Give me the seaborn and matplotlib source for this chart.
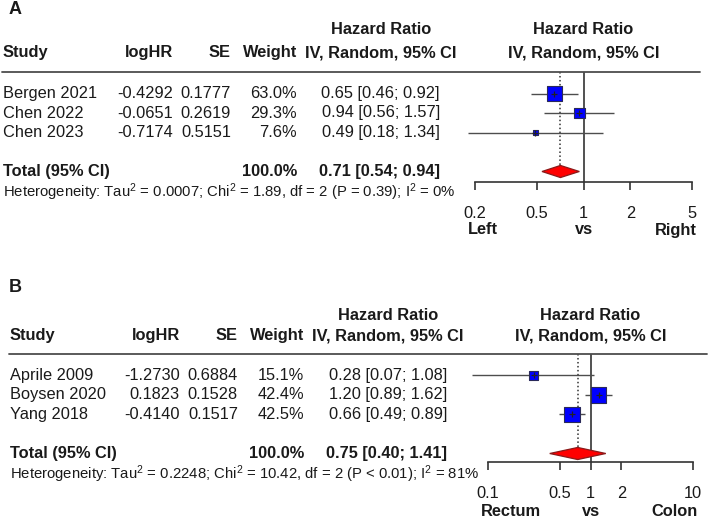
import matplotlib
matplotlib.use("Agg")
import matplotlib.pyplot as plt
import matplotlib.transforms as mtransforms
from matplotlib.lines import Line2D
from matplotlib.ticker import FixedLocator, FixedFormatter, NullLocator
import pandas as pd
import seaborn as sns

# ---- panel A data ----
studies_a = ["Bergen 2021", "Chen 2022", "Chen 2023"]
loghr_a = [-0.4292, -0.0651, -0.7174]
se_a = [0.1777, 0.2619, 0.5151]
weight_a = [63.0, 29.3, 7.6]
hr_a = [0.65, 0.94, 0.49]
lower_a = [0.46, 0.56, 0.18]
upper_a = [0.92, 1.57, 1.34]
total_a = [0.71, 0.54, 0.94]  # estimate, lower, upper
total_weight_a = 100.0
het_a = r"Heterogeneity: Tau$^{\mathrm{2}}$ = 0.0007; Chi$^{\mathrm{2}}$ = 1.89, df = 2 (P = 0.39); I$^{\mathrm{2}}$ = 0%"
ticks_a = [0.2, 0.5, 1, 2, 5]
ticklabels_a = ["0.2", "0.5", "1", "2", "5"]
sides_a = ["Left", "vs", "Right"]

# ---- panel B data ----
studies_b = ["Aprile 2009", "Boysen 2020", "Yang 2018"]
loghr_b = [-1.2730, 0.1823, -0.4140]
se_b = [0.6884, 0.1528, 0.1517]
weight_b = [15.1, 42.4, 42.5]
hr_b = [0.28, 1.20, 0.66]
lower_b = [0.07, 0.89, 0.49]
upper_b = [1.08, 1.62, 0.89]
total_b = [0.75, 0.40, 1.41]
total_weight_b = 100.0
het_b = r"Heterogeneity: Tau$^{\mathrm{2}}$ = 0.2248; Chi$^{\mathrm{2}}$ = 10.42, df = 2 (P < 0.01); I$^{\mathrm{2}}$ = 81%"
ticks_b = [0.1, 0.5, 1, 2, 10]
ticklabels_b = ["0.1", "0.5", "1", "2", "10"]
sides_b = ["Rectum", "vs", "Colon"]

sns.set_style("white")
plt.rcParams['font.family'] = ['Liberation Sans', 'DejaVu Sans']
plt.rcParams['mathtext.fontset'] = 'custom'
plt.rcParams['mathtext.rm'] = 'Liberation Sans'
plt.rcParams['mathtext.it'] = 'Liberation Sans:italic'
plt.rcParams['mathtext.bf'] = 'Liberation Sans:bold'

W, H = 710, 520
fig = plt.figure(figsize=(W / 100, H / 100), dpi=100)
fig.patch.set_facecolor("white")

FS = 11.8
TXT = "#1a1a1a"


def panel(letter, top_px, line_px, axis_px, xlim, off, head_rows,
          studies, loghr, se, weight, hr, lower, upper, total, total_weight, het,
          ticks, ticklabels, sides):
    # forest axes: rows 0..2 for studies, row 4 for total
    row0_px = line_px + 21.5
    step = 19.5
    ax = fig.add_axes([455 / W, 1 - axis_px / H, 250 / W, (axis_px - line_px) / H])
    ax.set_xscale("log")
    ax.set_xlim(*xlim)
    ax.set_ylim(4 + (axis_px - (row0_px + 4 * step)) / step, -(row0_px - line_px) / step)
    ax.patch.set_alpha(0)

    rows = list(range(len(studies)))
    df = pd.DataFrame({"hr": hr, "row": rows, "weight": weight})

    ax.hlines(rows, lower, upper, color="#4d4d4d", lw=1.0, zorder=2)
    ax.axvline(1, color="#333333", lw=1.2, zorder=1)
    dh = 0.31
    ax.vlines(total[0], ax.get_ylim()[1], 4, color="#333333", lw=1.1,
              linestyles=(0, (1, 1.6)), zorder=1)
    sns.scatterplot(data=df, x="hr", y="row", size="weight", sizes=(0, 118),
                    size_norm=(0, max(weight)), marker="s", color="#0000ff",
                    edgecolor="#2a2a5a", linewidth=0.8, legend=False, ax=ax, zorder=3)
    ax.plot(hr, rows, "+", ms=5, mew=0.9, color="#222222", zorder=4)
    ax.fill([total[1], total[0], total[2], total[0]], [4, 4 - dh, 4, 4 + dh],
            facecolor="#ff0000", edgecolor="#8b1a1a", lw=0.9, zorder=3)

    for s in ["top", "right", "left"]:
        ax.spines[s].set_visible(False)
    ax.spines["bottom"].set_bounds(ticks[0], ticks[-1])
    ax.spines["bottom"].set_color("#333333")
    ax.spines["bottom"].set_linewidth(1.2)
    ax.xaxis.set_major_locator(FixedLocator(ticks))
    ax.xaxis.set_major_formatter(FixedFormatter(ticklabels))
    ax.xaxis.set_minor_locator(NullLocator())
    ax.tick_params(axis="x", direction="out", length=6, width=1.2, color="#333333",
                   pad=11, labelsize=FS, labelcolor=TXT, bottom=True)
    ax.set_yticks([])
    ax.set_xlabel("")
    ax.set_ylabel("")

    ax.text(ticks[0], 7.0, sides[0], ha="left", va="center", fontsize=FS,
            fontweight="bold", color=TXT, transform=mtransforms.offset_copy(ax.transData, fig, x=-7, units="dots"))
    ax.text(1, 7.0, sides[1], ha="center", va="center", fontsize=FS, fontweight="bold", color=TXT)
    ax.text(ticks[-1], 7.0, sides[2], ha="right", va="center", fontsize=FS,
            fontweight="bold", color=TXT, transform=mtransforms.offset_copy(ax.transData, fig, x=5, units="dots"))

    # table text: x in figure pixels, y in forest data rows
    tr = mtransforms.blended_transform_factory(fig.transFigure, ax.transData)

    def t(xpx, y, s, **kw):
        fig.text((xpx + off) / W, y, s, transform=tr, fontsize=kw.pop("fontsize", FS),
                 color=TXT, va="center", **kw)

    h1, h2 = head_rows
    t(381, h1, "Hazard Ratio", ha="center", fontweight="bold")
    t(3, h2, "Study", ha="left", fontweight="bold")
    t(173, h2, "logHR", ha="right", fontweight="bold")
    t(231, h2, "SE", ha="right", fontweight="bold")
    t(297, h2, "Weight", ha="right", fontweight="bold")
    t(381, h2, "IV, Random, 95% CI", ha="center", fontweight="bold")
    ax.text(1, h1, "Hazard Ratio", ha="center", va="center", fontsize=FS, fontweight="bold", color=TXT)
    ax.text(1, h2, "IV, Random, 95% CI", ha="center", va="center", fontsize=FS, fontweight="bold", color=TXT)

    for i, name in enumerate(studies):
        t(3, i, name, ha="left")
        t(173, i, f"{loghr[i]:.4f}", ha="right")
        t(231, i, f"{se[i]:.4f}", ha="right")
        t(297, i, f"{weight[i]:.1f}%", ha="right")
        t(440, i, f"{hr[i]:.2f} [{lower[i]:.2f}; {upper[i]:.2f}]", ha="right")
    t(3, 4, "Total (95% CI)", ha="left", fontweight="bold")
    t(297, 4, f"{total_weight:.1f}%", ha="right", fontweight="bold")
    t(440, 4, f"{total[0]:.2f} [{total[1]:.2f}; {total[2]:.2f}]", ha="right", fontweight="bold")
    t(3, 5.07, het, ha="left", fontsize=10.7)

    fig.add_artist(Line2D([(2 + off) / W, (700 + off) / W], [1 - line_px / H] * 2,
                          color="#4d4d4d", lw=1.3, transform=fig.transFigure))
    fig.text(15 / W, 1 - top_px / H, letter, ha="center", va="center",
             fontsize=13, fontweight="bold", color=TXT)


panel("A", 10, 72, 182, (0.1486, 6.06), 0, (-3.28, -2.10),
      studies_a, loghr_a, se_a, weight_a, hr_a, lower_a, upper_a, total_a, total_weight_a, het_a,
      ticks_a, ticklabels_a, sides_a)
panel("B", 288, 354, 462, (0.0476, 13.1), 7, (-3.08, -2.05),
      studies_b, loghr_b, se_b, weight_b, hr_b, lower_b, upper_b, total_b, total_weight_b, het_b,
      ticks_b, ticklabels_b, sides_b)

fig.savefig("out.png", dpi=100)
